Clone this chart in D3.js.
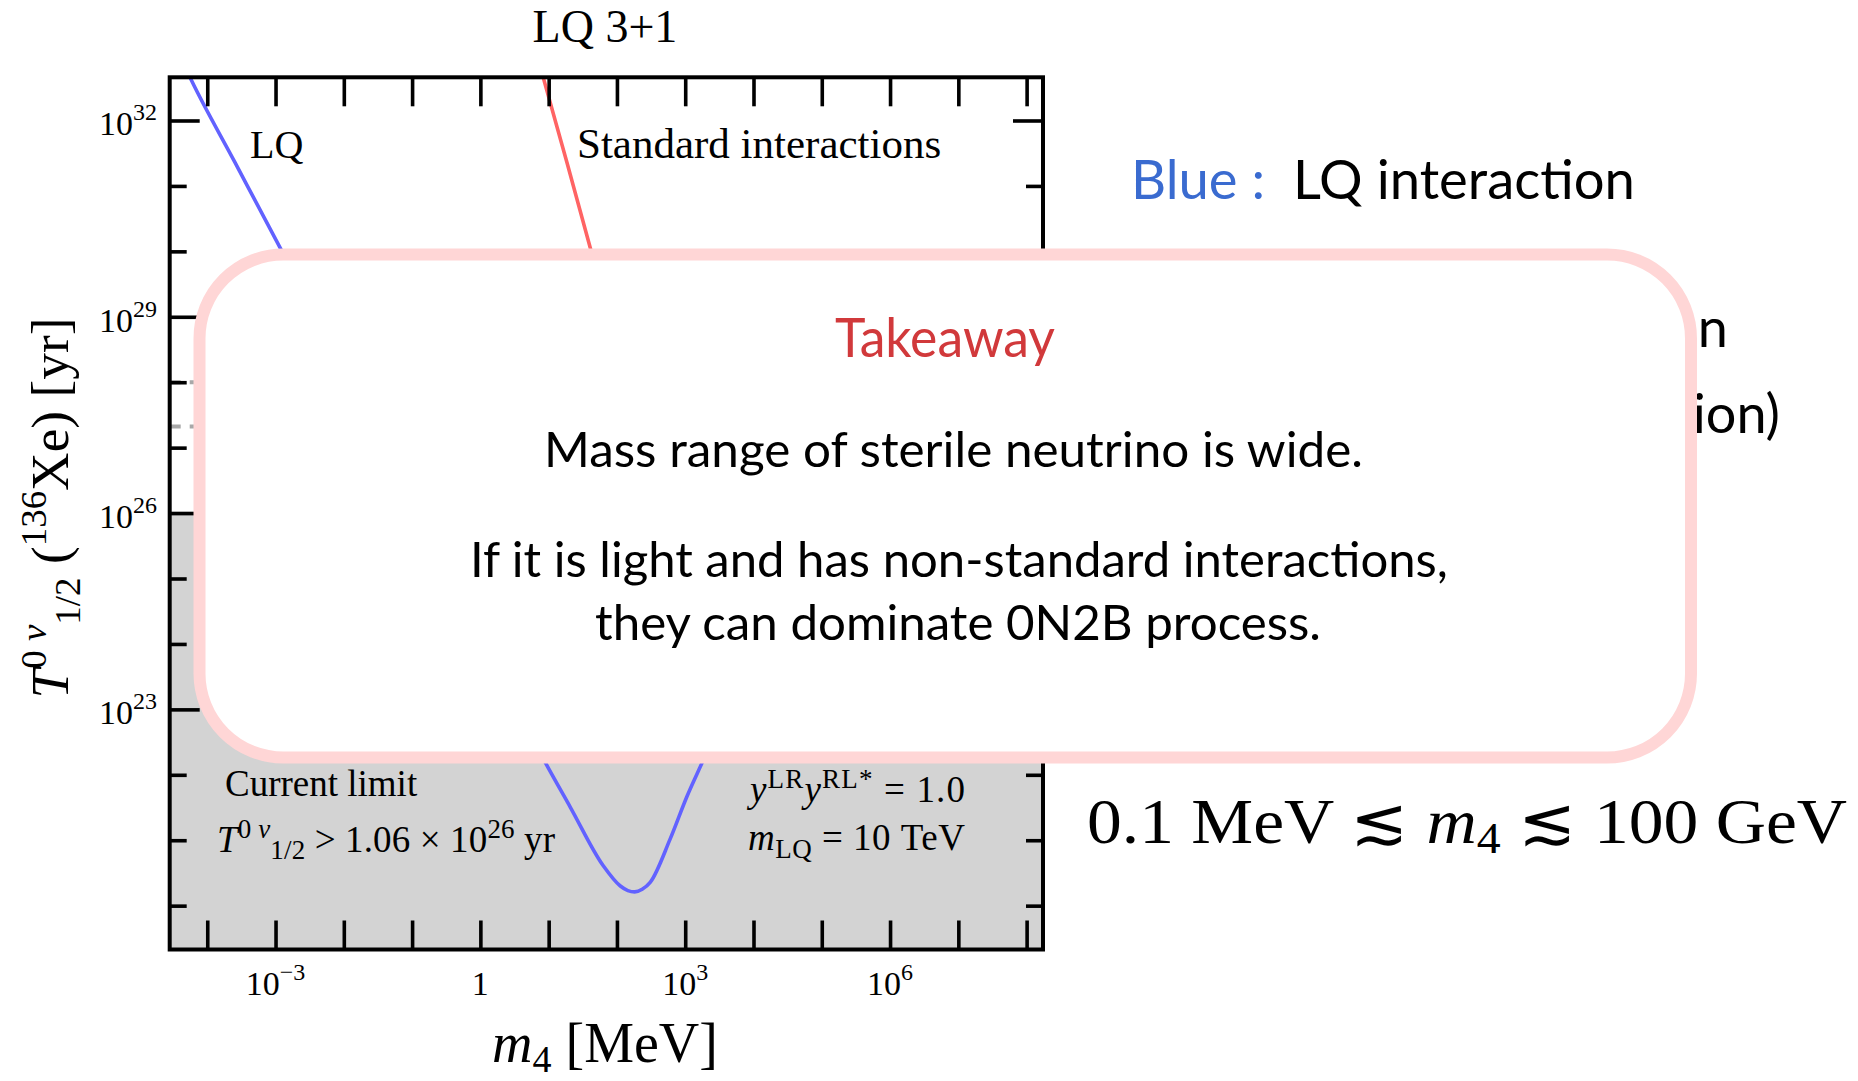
<!DOCTYPE html>
<html>
<head>
<meta charset="utf-8">
<script src="https://cdn.jsdelivr.net/npm/d3@7"></script>
<style>
  html, body { margin: 0; padding: 0; background: #fff; }
  svg { display: block; }
  .serif { font-family: "Liberation Serif", "Times New Roman", serif; }
  .sans { font-family: Lato, "Open Sans", sans-serif; }
</style>
</head>
<body>
<div id="chart"></div>
<script>
// LQ 3+1 half-life plot with the "Takeaway" slide box drawn over it.

// --- data (log10 of m4 in MeV, log10 of T_1/2 in yr) ---
const blueLQ = [
  [-4.45, 33.10], [-4.23, 32.61], [-3.60, 31.37], [-2.93, 30.05],
  [-2.00, 28.20], [-1.00, 26.20], [0.00, 24.15],
  [0.95, 22.19], [1.32, 21.50], [1.80, 20.61], [2.05, 20.30], [2.16, 20.23],
  [2.26, 20.21], [2.37, 20.25], [2.49, 20.36], [2.78, 21.02], [3.03, 21.68],
  [3.25, 22.19], [3.60, 23.00]
];
const redStandard = [
  [0.80, 33.12], [0.92, 32.66], [1.27, 31.35], [1.61, 30.05], [2.00, 28.60], [2.40, 27.30]
];
const currentLimit = 1.06e26;               // shaded below
const sensitivityLines = [1e28, 2.1e27];    // grey dashed lines (mostly hidden)
const xTickExps = d3.range(-4, 9);          // 10^-4 ... 10^8 MeV
const xLabelExps = [-3, 0, 3, 6];
const yTickExps = d3.range(20, 33);         // 10^20 ... 10^32 yr
const yLabelExps = [23, 26, 29, 32];
const xDomainExp = [-4.55, 8.24];
const yDomainExp = [19.33, 32.66];

const takeawayLines = [
  'Mass range of sterile neutrino is wide.',
  'If it is light and has non-standard interactions,',
  'they can dominate 0N2B process.'
];

// --- layout ---
const W = 1858, H = 1081;
const frame = { left: 169.7, right: 1043, top: 77.3, bottom: 949.5 };

const svg = d3.select('#chart').append('svg').attr('width', W).attr('height', H);
svg.append('rect').attr('width', W).attr('height', H).attr('fill', '#fff');

const x = d3.scaleLog().domain(xDomainExp.map(e => 10 ** e)).range([frame.left, frame.right]);
const y = d3.scaleLog().domain(yDomainExp.map(e => 10 ** e)).range([frame.bottom, frame.top]);

svg.append('clipPath').attr('id', 'plotclip').append('rect')
  .attr('x', frame.left).attr('y', frame.top)
  .attr('width', frame.right - frame.left).attr('height', frame.bottom - frame.top);

const plot = svg.append('g').attr('clip-path', 'url(#plotclip)');

// excluded region below the current limit
plot.append('rect')
  .attr('x', frame.left).attr('y', y(currentLimit))
  .attr('width', frame.right - frame.left).attr('height', frame.bottom - y(currentLimit))
  .attr('fill', '#d3d3d3');

plot.selectAll('.sens').data(sensitivityLines).enter().append('line')
  .attr('x1', frame.left).attr('x2', frame.right)
  .attr('y1', d => y(d)).attr('y2', d => y(d))
  .attr('stroke', '#a8a8a8').attr('stroke-width', 4).attr('stroke-dasharray', '11 9');

const line = d3.line()
  .x(d => x(10 ** d[0])).y(d => y(10 ** d[1]))
  .curve(d3.curveMonotoneX);
plot.append('path').datum(redStandard).attr('d', line)
  .attr('fill', 'none').attr('stroke', '#ff6464').attr('stroke-width', 3.6);
plot.append('path').datum(blueLQ).attr('d', line)
  .attr('fill', 'none').attr('stroke', '#6262ff').attr('stroke-width', 3.6);

// ticks on all four sides, pointing inward
const xTicks = xTickExps.map(e => 10 ** e);
const yMajor = yLabelExps.map(e => 10 ** e);
const yMinor = yTickExps.filter(e => !yLabelExps.includes(e)).map(e => 10 ** e);
const tickStyle = g => {
  g.select('.domain').remove();
  g.selectAll('.tick line').attr('stroke', '#000').attr('stroke-width', 3.6);
  g.selectAll('.tick text').remove();
};
svg.append('g').attr('transform', `translate(0,${frame.bottom})`)
  .call(d3.axisBottom(x).tickValues(xTicks).tickSize(-29).tickSizeOuter(0)).call(tickStyle);
svg.append('g').attr('transform', `translate(0,${frame.top})`)
  .call(d3.axisTop(x).tickValues(xTicks).tickSize(-29).tickSizeOuter(0)).call(tickStyle);
[[yMajor, 30], [yMinor, 17]].forEach(([vals, len]) => {
  svg.append('g').attr('transform', `translate(${frame.left},0)`)
    .call(d3.axisLeft(y).tickValues(vals).tickSize(-len).tickSizeOuter(0)).call(tickStyle);
  svg.append('g').attr('transform', `translate(${frame.right},0)`)
    .call(d3.axisRight(y).tickValues(vals).tickSize(-len).tickSizeOuter(0)).call(tickStyle);
});
svg.append('rect')
  .attr('x', frame.left).attr('y', frame.top)
  .attr('width', frame.right - frame.left).attr('height', frame.bottom - frame.top)
  .attr('fill', 'none').attr('stroke', '#000').attr('stroke-width', 4);

// power-of-ten labels with superscripts
function powLabel(t, e) {
  if (e === 0) { t.append('tspan').text('1'); return; }
  t.append('tspan').text('10');
  t.append('tspan').attr('font-size', 24).attr('dy', -15).text(e < 0 ? '\u2212' + (-e) : e);
}
xLabelExps.forEach(e => {
  const t = svg.append('text').attr('class', 'serif').attr('font-size', 34)
    .attr('text-anchor', 'middle').attr('x', x(10 ** e)).attr('y', 995);
  powLabel(t, e);
});
yLabelExps.forEach(e => {
  const t = svg.append('text').attr('class', 'serif').attr('font-size', 34)
    .attr('text-anchor', 'end').attr('x', 157).attr('y', y(10 ** e) + 15);
  powLabel(t, e);
});

// title and axis titles
svg.append('text').attr('class', 'serif').attr('font-size', 46).attr('text-anchor', 'middle')
  .attr('x', 605).attr('y', 42).text('LQ 3+1');

const xt = svg.append('text').attr('class', 'serif').attr('font-size', 56)
  .attr('text-anchor', 'middle').attr('x', 605).attr('y', 1062);
xt.append('tspan').attr('font-style', 'italic').text('m');
xt.append('tspan').attr('font-size', 38).attr('dy', 10).text('4');
xt.append('tspan').attr('dy', -10).text('\u00a0[MeV]');

const yt = svg.append('text').attr('class', 'serif').attr('font-size', 52)
  .attr('text-anchor', 'middle').attr('transform', 'translate(68,508) rotate(-90)')
  .attr('textLength', 381).attr('lengthAdjust', 'spacingAndGlyphs');
yt.append('tspan').attr('font-style', 'italic').text('T');
yt.append('tspan').attr('font-size', 36).attr('dy', -22).text('0');
yt.append('tspan').attr('font-size', 36).attr('font-style', 'italic').text('\u00a0\u03bd');
yt.append('tspan').attr('font-size', 36).attr('dy', 34).text('1/2');
yt.append('tspan').attr('dy', -12).text('\u00a0(');
yt.append('tspan').attr('font-size', 36).attr('dy', -22).text('136');
yt.append('tspan').attr('dy', 22).text('Xe) [yr]');

// in-plot annotations
const note = (xp, yp, size) => svg.append('text').attr('class', 'serif')
  .attr('font-size', size).attr('x', xp).attr('y', yp);
note(250, 158, 40).text('LQ');
note(577, 158, 43).text('Standard interactions');
note(225, 796, 37).text('Current limit');

const lim = note(217, 852, 37).attr('textLength', 338).attr('lengthAdjust', 'spacing');
lim.append('tspan').attr('font-style', 'italic').text('T');
lim.append('tspan').attr('font-size', 27).attr('dy', -14).text('0\u00a0');
lim.append('tspan').attr('font-size', 27).attr('font-style', 'italic').text('\u03bd');
lim.append('tspan').attr('font-size', 27).attr('dy', 21).text('1/2');
lim.append('tspan').attr('dy', -7).text('\u00a0>\u00a01.06\u00a0\u00d7\u00a010');
lim.append('tspan').attr('font-size', 27).attr('dy', -14).text('26');
lim.append('tspan').attr('dy', 14).text('\u00a0yr');

const yy = note(750, 802, 37).attr('textLength', 215).attr('lengthAdjust', 'spacing');
yy.append('tspan').attr('font-style', 'italic').text('y');
yy.append('tspan').attr('font-size', 27).attr('dy', -14).text('LR');
yy.append('tspan').attr('font-style', 'italic').attr('dy', 14).text('y');
yy.append('tspan').attr('font-size', 27).attr('dy', -14).text('RL*');
yy.append('tspan').attr('dy', 14).text('\u00a0=\u00a01.0');

const mq = note(748, 850, 37).attr('textLength', 217).attr('lengthAdjust', 'spacing');
mq.append('tspan').attr('font-style', 'italic').text('m');
mq.append('tspan').attr('font-size', 27).attr('dy', 8).text('LQ');
mq.append('tspan').attr('dy', -8).text('\u00a0=\u00a010\u00a0TeV');

// slide text on the right (partly covered by the box)
const blue = svg.append('text').attr('class', 'sans').attr('font-size', 54)
  .attr('x', 1131).attr('y', 199).attr('textLength', 504).attr('lengthAdjust', 'spacingAndGlyphs');
blue.append('tspan').attr('fill', '#3a6bd0').text('Blue :');
blue.append('tspan').attr('fill', '#000').text('\u00a0\u00a0LQ interaction');

svg.append('text').attr('class', 'sans').attr('font-size', 54).attr('text-anchor', 'end')
  .attr('x', 1728).attr('y', 347).text('Red :  Standard interaction');
svg.append('text').attr('class', 'sans').attr('font-size', 54).attr('text-anchor', 'end')
  .attr('x', 1780).attr('y', 433).text('(SM interaction)');

// takeaway box
svg.append('rect')
  .attr('x', 199.5).attr('y', 254.5).attr('width', 1491.5).attr('height', 503).attr('rx', 84)
  .attr('fill', '#fff').attr('stroke', '#ffd6d6').attr('stroke-width', 12);

svg.append('text').attr('class', 'sans').attr('font-size', 55).attr('text-anchor', 'middle')
  .attr('x', 945).attr('y', 357).attr('fill', '#d1393b')
  .attr('textLength', 220).attr('lengthAdjust', 'spacingAndGlyphs').text('Takeaway');

const lineSpec = [
  { cx: 953.5, base: 467, len: 819 },
  { cx: 959, base: 577, len: 978 },
  { cx: 958, base: 640, len: 726 }
];
takeawayLines.forEach((s, i) => {
  svg.append('text').attr('class', 'sans').attr('font-size', 48).attr('text-anchor', 'middle')
    .attr('x', lineSpec[i].cx).attr('y', lineSpec[i].base)
    .attr('textLength', lineSpec[i].len).attr('lengthAdjust', 'spacingAndGlyphs').text(s);
});

// mass range statement
const mr = svg.append('text').attr('class', 'serif').attr('font-size', 64)
  .attr('x', 1087).attr('y', 843).attr('textLength', 760).attr('lengthAdjust', 'spacingAndGlyphs');
mr.append('tspan').text('0.1 MeV \u2272 ');
mr.append('tspan').attr('font-style', 'italic').text('m');
mr.append('tspan').attr('font-size', 44).attr('dy', 10).text('4');
mr.append('tspan').attr('dy', -10).text(' \u2272 100 GeV');
</script>
</body>
</html>
